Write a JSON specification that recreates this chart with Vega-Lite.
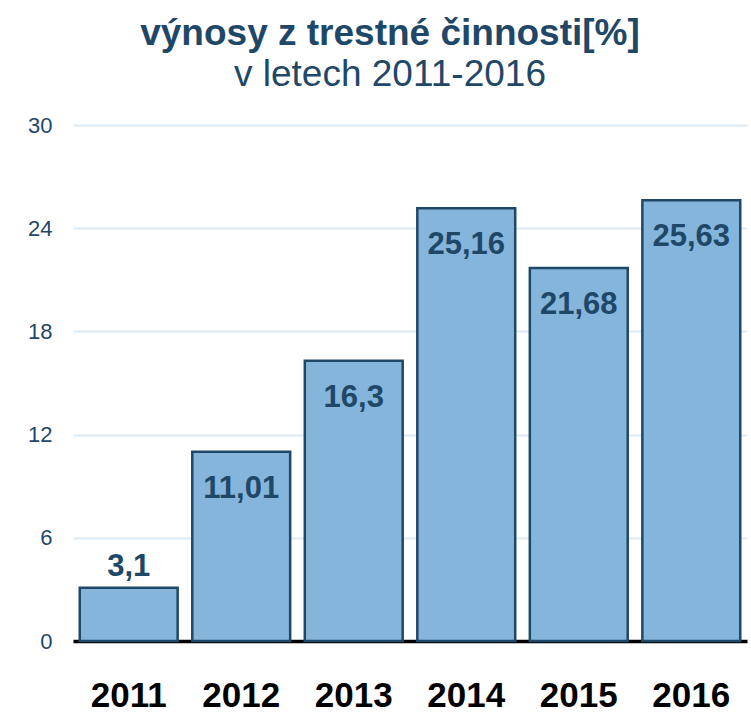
{
  "$schema": "https://vega.github.io/schema/vega-lite/v6.json",
  "width": 674,
  "height": 516,
  "autosize": {"type": "none"},
  "padding": {"left": 73, "top": 125, "right": 4, "bottom": 80},
  "background": "white",
  "title": {
    "text": "výnosy z trestné činnosti[%]",
    "subtitle": "v letech 2011-2016",
    "anchor": "middle",
    "frame": "group",
    "dx": -20,
    "offset": 20,
    "font": "Liberation Sans",
    "fontSize": 37,
    "fontWeight": "bold",
    "color": "#1F4868",
    "subtitleFont": "Liberation Sans",
    "subtitleFontSize": 37,
    "subtitleFontWeight": "normal",
    "subtitleColor": "#1F4868",
    "subtitlePadding": 4
  },
  "config": {
    "view": {"stroke": null},
    "locale": {"number": {"decimal": ",", "thousands": " ", "grouping": [3], "currency": ["", " Kč"]}}
  },
  "data": {
    "values": [
      {"year": "2011", "value": 3.1},
      {"year": "2012", "value": 11.01},
      {"year": "2013", "value": 16.3},
      {"year": "2014", "value": 25.16},
      {"year": "2015", "value": 21.68},
      {"year": "2016", "value": 25.63}
    ]
  },
  "encoding": {
    "x": {
      "field": "year",
      "type": "nominal",
      "scale": {"paddingInner": 0.13, "paddingOuter": 0.06},
      "axis": {
        "title": null,
        "labelAngle": 0,
        "ticks": false,
        "domain": true,
        "domainColor": "#000000",
        "domainWidth": 3.5,
        "labelFont": "Liberation Sans",
        "labelFontSize": 35,
        "labelFontWeight": "bold",
        "labelColor": "#000000",
        "labelBaseline": "alphabetic",
        "labelPadding": 65,
        "grid": false
      }
    },
    "y": {
      "field": "value",
      "type": "quantitative",
      "scale": {"domain": [0, 30], "nice": false},
      "axis": {
        "title": null,
        "values": [0, 6, 12, 18, 24, 30],
        "ticks": false,
        "domain": false,
        "grid": true,
        "gridColor": "#DCE9F5",
        "gridWidth": 2,
        "labelFont": "Liberation Sans",
        "labelFontSize": 22,
        "labelColor": "#1F4868",
        "labelPadding": 21
      }
    }
  },
  "layer": [
    {
      "mark": {"type": "bar", "color": "#85B5DA", "stroke": "#1F4868", "strokeWidth": 2.5}
    },
    {
      "transform": [{"filter": "datum.value > 5"}],
      "mark": {
        "type": "text",
        "baseline": "alphabetic",
        "dy": 46,
        "font": "Liberation Sans",
        "fontSize": 31,
        "fontWeight": "bold",
        "color": "#1F4868"
      },
      "encoding": {"text": {"field": "value", "type": "quantitative", "format": ".4~r"}}
    },
    {
      "transform": [{"filter": "datum.value <= 5"}],
      "mark": {
        "type": "text",
        "baseline": "alphabetic",
        "dy": -12,
        "font": "Liberation Sans",
        "fontSize": 31,
        "fontWeight": "bold",
        "color": "#1F4868"
      },
      "encoding": {"text": {"field": "value", "type": "quantitative", "format": ".4~r"}}
    }
  ]
}
